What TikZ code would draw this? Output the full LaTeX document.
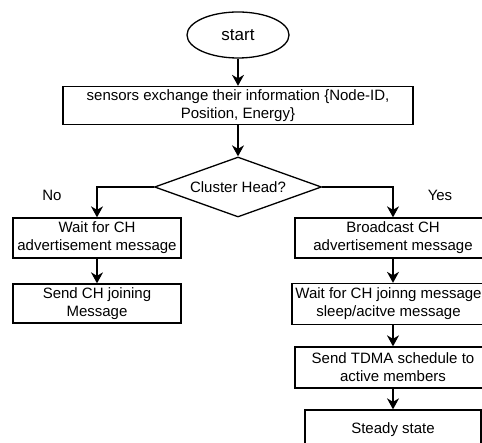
\documentclass[tikz,border=0pt]{standalone}
\usepackage{fontspec}
\setmainfont{Liberation Sans}
\usetikzlibrary{shapes.geometric, arrows.meta}
\tikzset{>={Stealth[length=11pt,width=12pt,inset=3.5pt]}}

\begin{document}
\begin{tikzpicture}[x=1pt, y=-1pt, line width=1.3pt,
    txt/.style={font=\fontsize{15}{18}\selectfont},
    proc/.style={draw, rectangle, txt, align=center, inner sep=0pt}]
    \useasboundingbox (0,0) rectangle (482,443);
    \node[draw, ellipse, minimum width=102pt, minimum height=46pt, inner sep=0pt, font=\fontsize{17}{20}\selectfont] (start) at (238,35) {start};
    \node[proc, minimum width=350pt, minimum height=38pt] (info) at (238,105.5) {sensors exchange their information \{Node-ID,\\Position, Energy\}};
    \node[draw, diamond, txt, aspect=2.8, inner sep=0pt, minimum width=167pt, minimum height=60pt] (head) at (238,187) {Cluster Head?};
    % left branch
    \node[proc, minimum width=168pt, minimum height=40pt] (wait) at (97,238) {Wait for CH\\advertisement message};
    \node[proc, minimum width=168pt, minimum height=39pt] (join) at (97,303.5) {Send CH joining\\Message};
    % right branch
    \node[proc, minimum width=196pt, minimum height=40pt] (bcast) at (393,238) {Broadcast CH\\advertisement message};
    \node[proc, minimum width=193pt, minimum height=41pt] (joinwait) at (388.5,304) {Wait for CH joinng message\\sleep/acitve message};
    \node[proc, minimum width=196pt, minimum height=41pt] (tdma) at (393,367.5) {Send TDMA schedule to\\active members};
    \node[proc, minimum width=176pt, minimum height=40pt] (steady) at (393,430) {Steady state};
    \node[txt] (no) at (52,195) {No};
    \node[txt] (yes) at (440,195) {Yes};
    \draw[->] (start) -- (info);
    \draw[->] (info) -- (head);
    \draw[->] (head.west) -| (wait.north);
    \draw[->] (head.east) -| (bcast.north);
    \draw[->] (wait) -- (join);
    \draw[->] (bcast) -- (bcast |- joinwait.north);
    \draw[->] (tdma |- joinwait.south) -- (tdma);
    \draw[->] (tdma) -- (steady);
\end{tikzpicture}
\end{document}
